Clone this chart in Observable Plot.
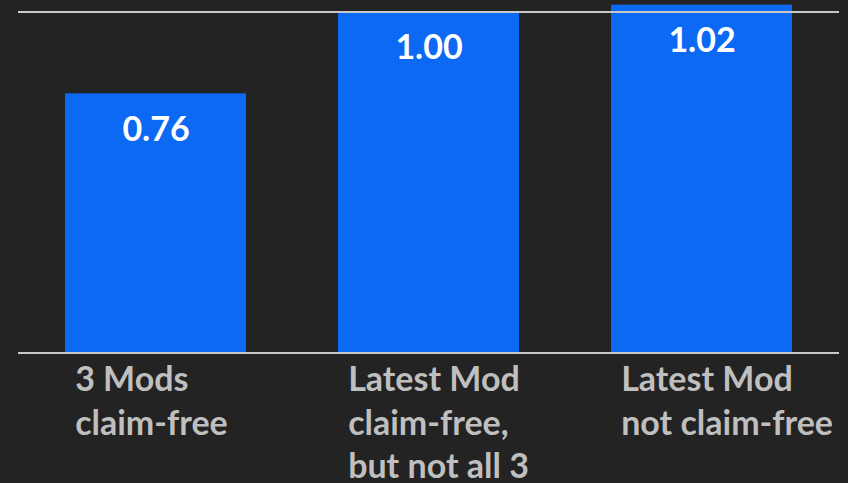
<!DOCTYPE html>
<html>
<head>
<meta charset="utf-8">
<script src="https://cdn.jsdelivr.net/npm/d3@7"></script>
<script src="https://cdn.jsdelivr.net/npm/@observablehq/plot@0.6"></script>
<style>
  html, body { margin: 0; padding: 0; background: #232323; }
  #chart svg { display: block; }
</style>
</head>
<body>
<div id="chart"></div>
<script>
const categories = ["3 Mods\nclaim-free", "Latest Mod\nclaim-free,\nbut not all 3", "Latest Mod\nnot claim-free"];
const values = [0.76, 1.00, 1.02];
const gridValues = [0, 1];

const data = categories.map((c, i) => ({category: c, value: values[i]}));

const W = 848, H = 483;
const marginLeft = 18, marginRight = 9, marginTop = 11.5, marginBottom = 130.5;
const innerW = W - marginLeft - marginRight;
const paddingInner = 0.336, paddingOuter = 0.168;
const step = innerW / (categories.length - paddingInner + 2 * paddingOuter);
const bandwidth = step * (1 - paddingInner);

const font = "Lato, 'Open Sans', sans-serif";

const chart = Plot.plot({
  width: W,
  height: H,
  marginLeft, marginRight, marginTop, marginBottom,
  style: {background: "#232323", fontFamily: font, overflow: "visible"},
  x: {domain: categories, paddingInner, paddingOuter, align: 0.5, axis: null},
  y: {domain: [0, 1], axis: null},
  marks: [
    Plot.barY(data, {x: "category", y: "value", fill: "#0b69f3"}),
    Plot.ruleY(gridValues, {stroke: "#c8c8c8", strokeWidth: 2}),
    Plot.text(data, {
      x: "category", y: "value",
      text: d => d3.format(".2f")(d.value),
      fill: "#ffffff", fontSize: 34, fontWeight: "bold",
      textAnchor: "middle", lineAnchor: "bottom", dy: 47
    }),
    Plot.text(data, {
      x: "category", y: () => 0,
      text: "category",
      fill: "#bfbfbf", fontSize: 34, fontWeight: "bold",
      textAnchor: "start", lineAnchor: "top", lineHeight: 1.28,
      dx: -bandwidth / 2 + 10, dy: 38 - 0.71 * 1.28 * 34
    })
  ]
});

document.getElementById("chart").appendChild(chart);
</script>
</body>
</html>
